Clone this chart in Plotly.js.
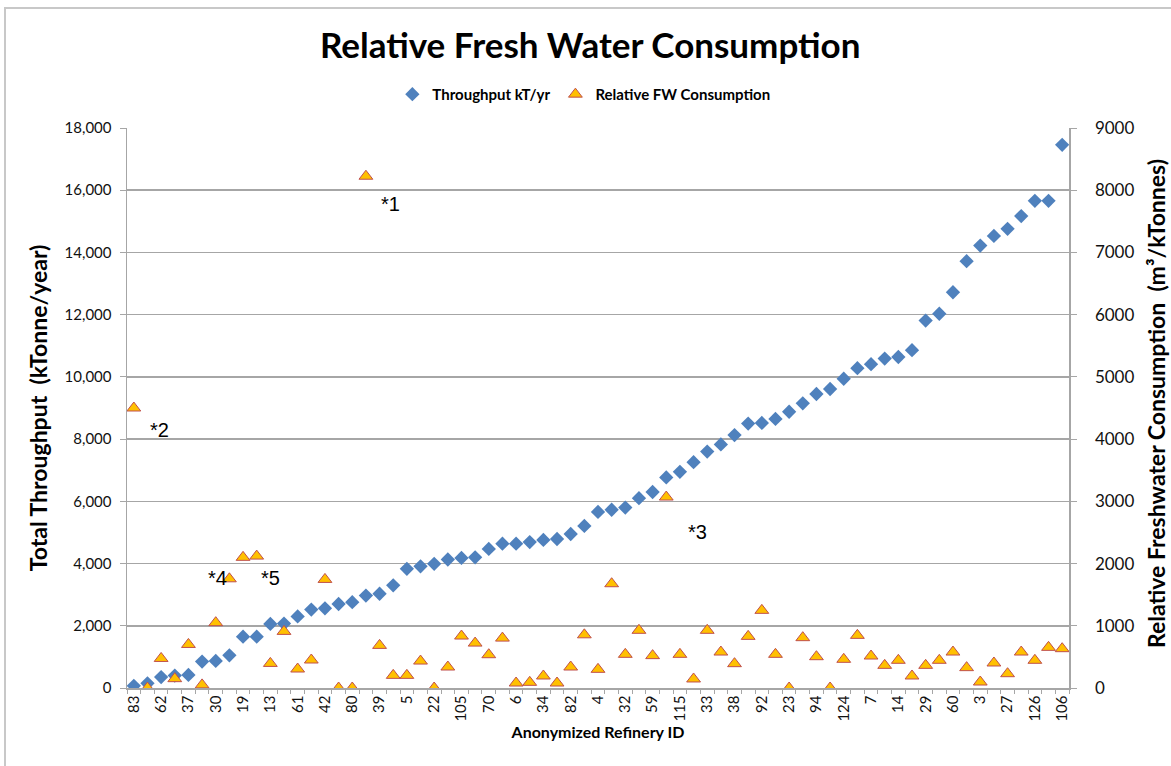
<!DOCTYPE html>
<html>
<head>
<meta charset="utf-8">
<script src="https://cdn.plot.ly/plotly-3.0.1.min.js"></script>
<style>
  html, body { margin: 0; padding: 0; background: #fff; overflow: hidden; }
  #chart { width: 1171px; height: 766px; }
  #frame { position: absolute; left: 4px; top: 7px; width: 1300px; height: 900px;
           border: 2px solid #c8c8c8; pointer-events: none; box-sizing: border-box; }
</style>
</head>
<body>
<div id="chart"></div>
<div id="frame"></div>
<script>
// Refinery labels shown on the axis (every second refinery)
const shownRefineryIds = ["83","62","37","30","19","13","61","42","80","39","5","22","105","70","6","34","82","4","32","59","115","33","38","92","23","94","124","7","14","29","60","3","27","126","106"];

// Throughput kT/yr (left axis), one per refinery in sorted order
const throughput = [70,150,350,400,420,850,870,1050,1650,1650,2060,2070,2300,2520,2560,2700,2760,2970,3030,3300,
  3830,3910,3990,4130,4180,4200,4470,4640,4640,4690,4760,4790,4950,5210,5660,5730,5800,6100,6300,6770,
  6950,7260,7600,7830,8130,8500,8520,8650,8880,9150,9450,9610,9940,10280,10410,10590,10640,10860,11810,12030,
  12720,13720,14220,14530,14760,15170,15660,15660,17460];

// Relative FW consumption m3/kTonnes (right axis)
const relativeFW = [4500,0,475,150,700,50,1050,1755,2100,2120,395,910,305,450,1745,0,0,8225,685,203,
  203,433,0,337,835,722,535,802,80,91,193,80,337,855,300,1676,541,927,520,3069,
  541,145,927,578,391,830,1248,541,0,809,503,0,461,846,514,364,445,193,364,445,
  578,327,96,402,230,578,445,653,632];

// Footnote markers
const noteLabels = ["*1","*2","*3","*4","*5"];
const noteX = [18.8, 1.9, 41.3, 6.1, 10.0];
const noteY = [15560, 8290, 5010, 3540, 3540];

const idx = throughput.map((_, i) => i);
const labelPos = shownRefineryIds.map((_, k) => 2 * k);
const boundaries = [];
for (let b = -0.5; b <= throughput.length - 0.5; b += 1) boundaries.push(b);

const FONT = "Lato, 'Open Sans', sans-serif";
const GRID = "#a6a6a6";

const traces = [
  {
    x: idx, y: throughput, type: "scatter", mode: "markers",
    name: "<b>Throughput kT/yr</b>",
    marker: { symbol: "diamond", size: 11, color: "#4F81BD", line: { width: 0 } },
    xaxis: "x", yaxis: "y"
  },
  {
    x: idx, y: relativeFW, type: "scatter", mode: "markers",
    name: "<b>Relative FW Consumption</b>",
    marker: { symbol: "triangle-up", size: 12, color: "#FFC000", line: { width: 1, color: "#C0504D" } },
    xaxis: "x", yaxis: "y2"
  },
  { // dummy trace to show boundary ticks on overlay axis
    x: [0], y: [null], type: "scatter", mode: "markers", showlegend: false, hoverinfo: "skip",
    xaxis: "x2", yaxis: "y"
  }
];

const annotations = noteLabels.map((t, k) => ({
  text: t, x: noteX[k], y: noteY[k], xref: "x", yref: "y",
  showarrow: false, font: { family: "Liberation Sans, Arial, sans-serif", size: 20, color: "#000" }
}));
annotations.push({
  text: "<b>Relative Freshwater Consumption &nbsp;(m³/kTonnes)</b>",
  xref: "paper", yref: "paper", x: 1, y: 0.5, xanchor: "center", yanchor: "middle",
  xshift: 87, yshift: 4, textangle: -90, showarrow: false,
  font: { family: FONT, size: 23, color: "#000" }
});

const layout = {
  width: 1171, height: 766,
  margin: { l: 127, r: 102, t: 128, b: 78 },
  paper_bgcolor: "#fff", plot_bgcolor: "#fff",
  font: { family: FONT, color: "#222" },
  showlegend: true,
  title: {
    text: "<b>Relative Fresh Water Consumption</b>",
    font: { family: FONT, size: 35, color: "#000" },
    x: 0.504, xanchor: "center", y: 0.94, yanchor: "middle"
  },
  legend: {
    orientation: "h", x: 0.485, xanchor: "center", y: 1.06, yanchor: "middle",
    font: { family: FONT, size: 15, color: "#000" },
    itemwidth: 20, tracegroupgap: 0
  },
  xaxis: {
    range: [-0.5, throughput.length - 0.5],
    tickmode: "array", tickvals: labelPos, ticktext: shownRefineryIds,
    tickangle: -90, ticks: "", showgrid: false, zeroline: false,
    showline: true, linecolor: GRID, linewidth: 1.5,
    tickfont: { family: FONT, size: 15, color: "#111" },
    title: { text: "<b>Anonymized Refinery ID</b>", font: { family: FONT, size: 16, color: "#000" }, standoff: 6 }
  },
  xaxis2: {
    overlaying: "x", matches: "x", range: [-0.5, throughput.length - 0.5],
    tickmode: "array", tickvals: boundaries, ticks: "outside", ticklen: 5,
    tickcolor: GRID, showticklabels: false, showgrid: false, zeroline: false, showline: false
  },
  yaxis: {
    range: [0, 18000], dtick: 2000, tickformat: ",d",
    showgrid: true, gridcolor: GRID, gridwidth: 1.5, zeroline: false,
    showline: true, linecolor: GRID, linewidth: 1.5,
    ticks: "outside", ticklen: 6, tickcolor: GRID, ticklabelstandoff: 5,
    tickfont: { family: FONT, size: 15, color: "#111" },
    title: { text: "<b>Total Throughput &nbsp;(kTonne/year)</b>", font: { family: FONT, size: 23, color: "#000" }, standoff: 10 }
  },
  yaxis2: {
    overlaying: "y", side: "right", range: [0, 9000], dtick: 1000, tickformat: "d",
    showgrid: false, zeroline: false,
    showline: true, linecolor: GRID, linewidth: 1.5,
    ticks: "outside", ticklen: 6, tickcolor: GRID, ticklabelstandoff: 15,
    tickfont: { family: FONT, size: 17, color: "#111" }
  },
  annotations: annotations
};

Plotly.newPlot("chart", traces, layout, { displayModeBar: false, staticPlot: true });
</script>
</body>
</html>
